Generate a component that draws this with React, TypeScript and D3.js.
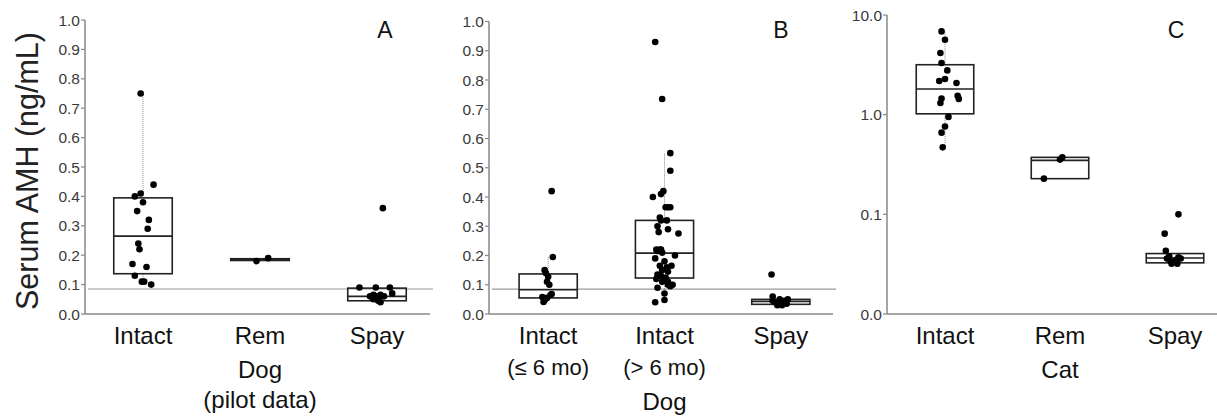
import React from 'react'
import * as d3 from 'd3'

// panel A : dog pilot data
const aCategories = ['Intact', 'Rem', 'Spay']
const aQ1 = [0.137, 0.182, 0.045]
const aMedian = [0.265, 0.185, 0.06]
const aQ3 = [0.395, 0.188, 0.088]
const aWhiskLo = [0.10, 0.182, 0.045]
const aWhiskHi = [0.75, 0.188, 0.088]
const aIntact = [0.75, 0.44, 0.41, 0.40, 0.38, 0.35, 0.32, 0.29, 0.24, 0.22, 0.17, 0.16, 0.13, 0.11, 0.11, 0.10]
const aIntactJit = [-0.02, 0.09, -0.02, -0.07, 0, -0.05, 0.05, 0.04, -0.04, -0.03, -0.09, 0.03, -0.07, -0.01, 0.01, 0.07]
const aRem = [0.18, 0.19]
const aRemJit = [-0.03, 0.07]
const aSpay = [0.36, 0.09, 0.09, 0.09, 0.07, 0.065, 0.06, 0.055, 0.05, 0.045, 0.04, 0.06, 0.06, 0.065, 0.05]
const aSpayJit = [0.05, -0.15, -0.01, 0.11, 0.13, -0.03, -0.01, 0.02, -0.03, 0.01, 0.03, 0.06, -0.06, 0.03, 0]

// panel B : dog
const bCategories = ['Intact|(≤ 6 mo)', 'Intact|(> 6 mo)', 'Spay']
const bQ1 = [0.055, 0.123, 0.033]
const bMedian = [0.083, 0.208, 0.043]
const bQ3 = [0.137, 0.32, 0.05]
const bWhiskLo = [0.04, 0.04, 0.033]
const bWhiskHi = [0.195, 0.55, 0.05]
const bYoung = [0.42, 0.195, 0.15, 0.14, 0.127, 0.11, 0.10, 0.058, 0.048, 0.065, 0.068, 0.041, 0.055]
const bYoungJit = [0.03, 0.04, -0.03, -0.02, 0, -0.01, 0.01, -0.05, -0.03, 0.02, 0.03, -0.04, -0.01]
const bOld = [0.93, 0.735, 0.55, 0.49, 0.42, 0.41, 0.40, 0.365, 0.365, 0.365, 0.33, 0.32, 0.32, 0.30, 0.29, 0.28, 0.275,
  0.22, 0.22, 0.22, 0.215, 0.21, 0.20, 0.19, 0.18, 0.165, 0.16, 0.165, 0.15, 0.145, 0.135, 0.13, 0.125, 0.12, 0.11, 0.11,
  0.10, 0.10, 0.095, 0.09, 0.07, 0.04, 0.048]
const bOldJit = [-0.08, -0.02, 0.05, 0.05, -0.01, -0.03, -0.1, 0.03, 0.01, 0.05, -0.04, -0.03, 0.02, -0.06, 0.03, -0.05, 0.12,
  -0.07, -0.04, -0.03, -0.06, -0.02, 0.09, -0.08, 0, -0.04, 0.02, 0.06, -0.02, 0.03, -0.06, -0.03, 0.01, -0.07, 0.03, -0.02,
  0.07, 0.03, 0.05, -0.06, 0, -0.08, 0]
const bSpay = [0.135, 0.06, 0.05, 0.05, 0.04, 0.035, 0.04, 0.035, 0.03, 0.03, 0.045, 0.045]
const bSpayJit = [-0.08, -0.07, -0.01, 0.06, -0.05, -0.03, 0.02, 0.05, 0.01, -0.03, 0.03, -0.07]

// panel C : cat (log scale)
const cCategories = ['Intact', 'Rem', 'Spay']
const cQ1 = [1.02, 0.228, 0.0326]
const cMedian = [1.81, 0.348, 0.0365]
const cQ3 = [3.17, 0.373, 0.0404]
const cWhiskLo = [0.47, 0.228, 0.0326]
const cWhiskHi = [6.85, 0.373, 0.0404]
const cIntact = [6.85, 5.65, 4.16, 3.3, 2.78, 2.28, 2.18, 2.08, 1.55, 1.44, 1.45, 1.31, 0.95, 0.76, 0.66, 0.47]
const cIntactJit = [-0.03, 0, -0.04, -0.03, 0.02, 0, -0.05, 0.1, 0.11, 0.12, -0.03, -0.04, 0.03, 0, -0.03, -0.02]
const cRem = [0.228, 0.354, 0.373]
const cRemJit = [-0.14, 0, 0.02]
const cSpay = [0.1, 0.064, 0.043, 0.036, 0.034, 0.033, 0.035, 0.037, 0.036, 0.032, 0.032, 0.038]
const cSpayJit = [0.03, -0.09, -0.08, -0.07, -0.04, -0.02, 0.01, 0.03, 0.05, 0.02, -0.03, -0.05]

const linTicks = [0, 0.1, 0.2, 0.3, 0.4, 0.5, 0.6, 0.7, 0.8, 0.9, 1.0]
const logTicks = [0.01, 0.1, 1, 10]
const logTickLabels = ['0.0', '0.1', '1.0', '10.0']
const refLimit = 0.085

const FONT = "'Liberation Sans', Arial, Helvetica, sans-serif"

const Panel = ({ p }) => {
  const bottom = 314
  const x = d3.scaleBand().domain(p.cats).range(p.xRange).paddingInner(0).paddingOuter(0)
  const y = p.log
    ? d3.scaleLog().domain([0.01, 10]).range([bottom, p.top])
    : d3.scaleLinear().domain([0, 1]).range([bottom, p.top])
  const bw = x.bandwidth()
  const boxW = bw * 0.5
  const cx = (c) => x(c) + bw / 2

  return (
    <g>
      {/* reference line */}
      {p.ref && (
        <line x1={p.axisX + 3} x2={p.xEnd + 3} y1={y(refLimit)} y2={y(refLimit)} stroke="#999" strokeWidth={1.2} />
      )}
      {/* axes */}
      <line x1={p.axisX} x2={p.axisX} y1={p.top} y2={bottom} stroke="#888" strokeWidth={1.5} />
      <line x1={p.axisX} x2={p.xEnd} y1={bottom} y2={bottom} stroke="#888" strokeWidth={1.5} />
      {p.ticks.map((t, i) => (
        <g key={i}>
          <line x1={p.axisX - 4} x2={p.axisX} y1={y(t)} y2={y(t)} stroke="#888" strokeWidth={1.2} />
          <text x={p.axisX - 5} y={y(t)} dy="0.36em" textAnchor="end" fontSize={15.5} fill="#3a3a3a" fontFamily={FONT}>
            {p.tickLabels[i]}
          </text>
        </g>
      ))}
      {/* boxes */}
      {p.cats.map((c, i) => (
        <g key={c}>
          <line x1={cx(c)} x2={cx(c)} y1={y(p.q3[i])} y2={y(p.whHi[i])} stroke="#888" strokeWidth={1} strokeDasharray="1,1" />
          <line x1={cx(c)} x2={cx(c)} y1={y(p.q1[i])} y2={y(p.whLo[i])} stroke="#888" strokeWidth={1} strokeDasharray="1,1" />
          <rect x={cx(c) - boxW / 2} width={boxW} y={y(p.q3[i])} height={Math.max(1, y(p.q1[i]) - y(p.q3[i]))}
            fill="none" stroke="#222" strokeWidth={1.6} />
          <line x1={cx(c) - boxW / 2} x2={cx(c) + boxW / 2} y1={y(p.med[i])} y2={y(p.med[i])} stroke="#222" strokeWidth={1.6} />
        </g>
      ))}
      {/* points */}
      {p.cats.map((c, i) =>
        p.pts[i].map((v, j) => (
          <circle key={c + j} cx={cx(c) + p.jit[i][j] * bw} cy={y(v)} r={3.3} fill="#000" />
        ))
      )}
      {/* category labels */}
      {p.cats.map((c) => {
        const parts = c.split('|')
        return (
          <g key={c} fontFamily={FONT} fill="#111" textAnchor="middle">
            <text x={cx(c)} y={bottom + 30} fontSize={24}>{parts[0]}</text>
            {parts[1] && <text x={cx(c)} y={bottom + 61} fontSize={22}>{parts[1]}</text>}
          </g>
        )
      })}
      {p.group.map((g, i) => (
        <text key={g} x={cx(p.cats[1])} y={p.groupY + i * 30} fontSize={24} textAnchor="middle" fontFamily={FONT} fill="#111">{g}</text>
      ))}
      <text x={p.letterX} y={38} fontSize={23} textAnchor="middle" fontFamily={FONT} fill="#111">{p.letter}</text>
    </g>
  )
}

const panels = [
  {
    cats: aCategories, xRange: [84.5, 435.5], axisX: 85, xEnd: 430, top: 20, log: false, ref: true,
    ticks: linTicks, tickLabels: linTicks.map((t) => t.toFixed(1)),
    q1: aQ1, med: aMedian, q3: aQ3, whLo: aWhiskLo, whHi: aWhiskHi,
    pts: [aIntact, aRem, aSpay], jit: [aIntactJit, aRemJit, aSpayJit],
    group: ['Dog', '(pilot data)'], groupY: 378, letter: 'A', letterX: 385,
  },
  {
    cats: bCategories, xRange: [490, 839], axisX: 489, xEnd: 833, top: 21.5, log: false, ref: true,
    ticks: linTicks, tickLabels: linTicks.map((t) => t.toFixed(1)),
    q1: bQ1, med: bMedian, q3: bQ3, whLo: bWhiskLo, whHi: bWhiskHi,
    pts: [bYoung, bOld, bSpay], jit: [bYoungJit, bOldJit, bSpayJit],
    group: ['Dog'], groupY: 410, letter: 'B', letterX: 781,
  },
  {
    cats: cCategories, xRange: [887.5, 1232.5], axisX: 887, xEnd: 1217, top: 15, log: true, ref: false,
    ticks: logTicks, tickLabels: logTickLabels,
    q1: cQ1, med: cMedian, q3: cQ3, whLo: cWhiskLo, whHi: cWhiskHi,
    pts: [cIntact, cRem, cSpay], jit: [cIntactJit, cRemJit, cSpayJit],
    group: ['Cat'], groupY: 378, letter: 'C', letterX: 1176,
  },
]

export default function App() {
  return (
    <svg width={1217} height={418} style={{ position: 'absolute', left: 0, top: 0, background: '#fff' }}>
      <rect width={1217} height={418} fill="#fff" />
      <text transform="translate(38,171) rotate(-90)" textAnchor="middle" fontSize={30.5} fontFamily={FONT} fill="#222">
        Serum AMH (ng/mL)
      </text>
      {panels.map((p) => <Panel key={p.letter} p={p} />)}
    </svg>
  )
}
